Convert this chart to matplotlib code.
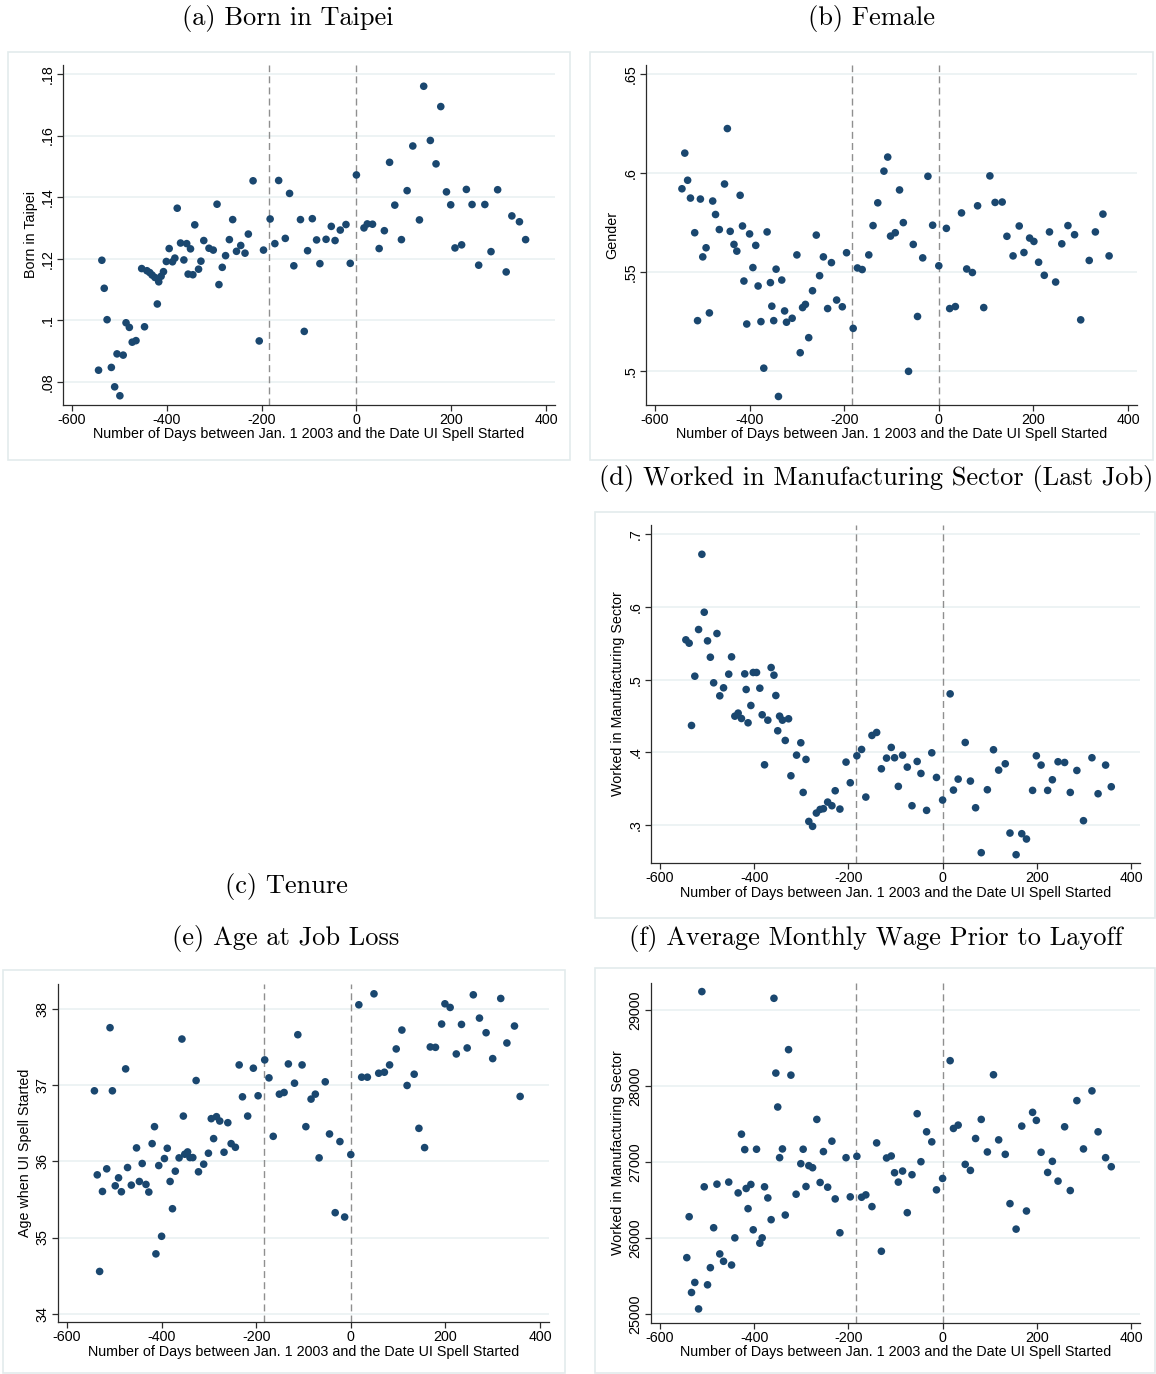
import matplotlib
matplotlib.use("Agg")
import matplotlib.pyplot as plt
from matplotlib.patches import Rectangle

plt.rcParams['font.family'] = ['Liberation Sans', 'DejaVu Sans']
plt.rcParams['axes.unicode_minus'] = False

# ---------------- data ----------------
xticks = [-600, -400, -200, 0, 200, 400]
xtick_labels = ["-600", "-400", "-200", "0", "200", "400"]
cutoffs = [-184, 0]
xlabel = "Number of Days between Jan. 1 2003 and the Date UI Spell Started"

# (a) Born in Taipei
xa = [-544, -537, -532, -526, -517, -510, -505, -499, -492, -486, -479, -473, -465, -453, -447, -442, -436,
      -431, -425, -420, -417, -412, -407, -401, -395, -388, -383, -378, -371, -364, -358, -355, -350, -345,
      -341, -333, -328, -322, -311, -302, -294, -290, -283, -276, -268, -261, -253, -244, -235, -228, -218,
      -205, -196, -182, -172, -164, -150, -141, -132, -118, -110, -103, -93, -84, -77,
      -64, -53, -45, -34, -22, -13, 0, 16, 23, 34, 48, 59, 70, 81, 95, 107, 119, 133, 142, 156, 168, 178,
      190, 199, 208, 222, 232, 244, 258, 271, 284, 298, 316, 328, 344, 357]
ya = [.0838, .1195, .1104, .1002, .0847, .0784, .0891, .0755, .0887, .0992, .0977, .0929, .0934, .1168,
      .0979, .1161, .1155, .1147, .1139, .1053, .1125, .1143, .1158, .1191, .1233, .1190, .1202, .1364,
      .1251, .1196, .1249, .1150, .1232, .1148, .1310, .1166, .1192, .1259, .1234, .1228, .1377, .1116,
      .1172, .1210, .1262, .1327, .1224, .1243, .1218, .1280, .1453, .0933, .1228, .1329, .1249, .1454,
      .1266, .1412, .1177, .1327, .0964, .1226, .1330, .1261, .1184,
      .1263, .1305, .1259, .1293, .1311, .1185, .1472, .1300, .1313, .1312, .1233, .1291, .1513, .1374,
      .1262, .1421, .1566, .1326, .1760, .1584, .1508, .1694, .1417, .1375, .1235, .1245, .1425, .1376,
      .1179, .1376, .1223, .1424, .1157, .1339, .1320, .1262]
yticks_a = [.08, .10, .12, .14, .16, .18]
ytick_labels_a = [".08", ".1", ".12", ".14", ".16", ".18"]

# (b) Female
xb = [-543, -537, -531, -525, -516, -510, -504, -499, -492, -485, -478, -472, -464, -453, -447, -441, -433,
      -427, -420, -415, -412, -406, -400, -393, -387, -382, -376, -370, -363, -356, -353, -349, -344, -339,
      -332, -326, -322, -310, -300, -293, -288, -282, -275, -267, -259, -252, -244, -235, -227, -216, -204,
      -195, -181, -172, -162, -148, -139, -129, -116, -108, -102, -92, -83,
      -75, -64, -54, -45, -34, -23, -13, 0, 16, 23, 35, 48, 59, 71, 82, 95, 108, 119, 134, 144, 157, 170,
      180, 192, 201, 211, 223, 234, 247, 260, 273, 287, 300, 318, 331, 347, 360]
yb = [.5920, .6100, .5963, .5873, .5698, .5254, .5868, .5576, .5622, .5293, .5858, .5790, .5714, .5944,
      .6224, .5705, .5639, .5605, .5887, .5732, .5454, .5237, .5692, .5522, .5634, .5429, .5249, .5014,
      .5702, .5446, .5327, .5254, .5514, .4871, .5459, .5303, .5246, .5266, .5586, .5092, .5320, .5336,
      .5168, .5405, .5686, .5481, .5576, .5315, .5547, .5358, .5324, .5597, .5215, .5520, .5512, .5586,
      .5734, .5849, .6009, .6080, .5681, .5698, .5914,
      .5749, .4998, .5639, .5275, .5571, .5983, .5736, .5531, .5720, .5315, .5325, .5798, .5515, .5497,
      .5834, .5320, .5985, .5851, .5853, .5680, .5581, .5732, .5598, .5671, .5654, .5549, .5483, .5702,
      .5449, .5642, .5734, .5688, .5258, .5558, .5702, .5792, .5581]
yticks_b = [.50, .55, .60, .65]
ytick_labels_b = [".5", ".55", ".6", ".65"]

# (d) Worked in Manufacturing Sector (Last Job)
xd = [-545, -538, -533, -526, -518, -511, -506, -499, -493, -486, -479, -473, -465, -454, -448, -441, -434,
      -427, -420, -417, -413, -407, -402, -395, -388, -383, -378, -371, -364, -358, -354, -350, -346, -340,
      -334, -327, -322, -310, -301, -296, -290, -284, -276, -268, -260, -253, -244, -235, -228, -218, -205,
      -196, -182, -172, -163, -150, -140, -130, -119, -109, -102, -94,
      -85, -75, -65, -54, -46, -34, -23, -13, 0, 16, 23, 33, 48, 59, 70, 82, 95, 108, 119, 133, 143, 156,
      168, 178, 191, 199, 209, 223, 233, 245, 259, 271, 285, 299, 317, 330, 346, 358]
yd = [.5548, .5502, .4370, .5048, .5690, .6725, .5928, .5534, .5309, .4957, .5635, .4778, .4888, .5076,
      .5314, .4498, .4540, .4466, .5080, .4865, .4407, .4645, .5099, .5099, .4883, .4517, .3829, .4443,
      .5167, .5062, .4782, .4297, .4498, .4443, .4164, .4462, .3678, .3962, .4132, .3449, .3903, .3050,
      .2982, .3165, .3215, .3225, .3316, .3266, .3472, .3220, .3866, .3582, .3953, .4040, .3385, .4233,
      .4274, .3774, .3921, .4068, .3926, .3532,
      .3962, .3797, .3266, .3875, .3710, .3202, .3994, .3655, .3344, .4805, .3481, .3632, .4136, .3605,
      .3238, .2620, .3486, .4036, .3756, .3843, .2890, .2592, .2881, .2808, .3477, .3953, .3825, .3477,
      .3623, .3871, .3861, .3449, .3751, .3060, .3926, .3431, .3825, .3527]
yticks_d = [.3, .4, .5, .6, .7]
ytick_labels_d = [".3", ".4", ".5", ".6", ".7"]

# (e) Age at Job Loss
xe = [-542, -536, -531, -525, -516, -509, -504, -498, -491, -485, -476, -472, -464, -453, -447, -441, -433,
      -427, -420, -415, -412, -406, -400, -394, -388, -382, -377, -371, -363, -357, -354, -351, -345, -340,
      -334, -327, -322, -311, -301, -295, -290, -284, -277, -268, -260, -253, -244, -236, -229, -218, -206,
      -196, -182, -173, -164, -151, -141, -132, -119, -112, -103, -95, -84, -75, -67,
      -54, -45, -33, -23, -13, 0, 17, 23, 35, 49, 59, 71, 82, 96, 108, 119, 134, 144, 156, 168, 179, 192,
      199, 210, 223, 234, 246, 259, 272, 286, 300, 317, 330, 346, 358]
ye = [36.927, 35.823, 34.554, 35.605, 35.902, 37.756, 36.927, 35.679, 35.784, 35.601, 37.215, 35.919,
      35.688, 36.177, 35.736, 35.972, 35.697, 35.597, 36.233, 36.456, 34.785, 35.945, 35.016, 36.037,
      36.172, 35.736, 35.378, 35.871, 36.046, 37.607, 36.595, 36.094, 36.124, 36.050, 36.050, 37.062,
      35.863, 35.963, 36.107, 36.561, 36.299, 36.587, 36.530, 36.120, 36.508, 36.233, 36.185, 37.267,
      36.848, 36.595, 37.224, 36.862, 37.333, 37.097, 36.329, 36.883, 36.905, 37.280, 37.027, 37.664,
      37.267, 36.456, 36.818, 36.883, 36.046,
      37.045, 36.360, 35.326, 36.260, 35.269, 36.089, 38.057, 37.106, 37.106, 38.201, 37.158, 37.171,
      37.267, 37.477, 37.725, 36.997, 37.145, 36.434, 36.181, 37.503, 37.498, 37.804, 38.070, 38.022,
      37.411, 37.799, 37.490, 38.188, 37.882, 37.690, 37.350, 38.140, 37.555, 37.778, 36.853]
yticks_e = [34, 35, 36, 37, 38]
ytick_labels_e = ["34", "35", "36", "37", "38"]

# (f) Average Monthly Wage Prior to Layoff
xf = [-543, -538, -533, -526, -518, -511, -506, -499, -493, -486, -479, -473, -465, -454, -448, -441, -434,
      -427, -420, -417, -413, -407, -402, -395, -388, -383, -378, -371, -364, -358, -354, -350, -346, -340,
      -334, -327, -322, -311, -301, -296, -290, -284, -276, -267, -260, -253, -244, -235, -228, -218, -205,
      -196, -182, -172, -163, -150, -140, -130, -119, -109, -102, -94,
      -85, -75, -65, -54, -46, -34, -23, -13, 0, 16, 23, 33, 48, 59, 70, 82, 95, 108, 119, 133, 143, 156,
      168, 178, 191, 199, 209, 223, 233, 245, 259, 271, 285, 299, 317, 330, 346, 358]
yf = [25745, 26283, 25287, 25419, 25071, 29242, 26676, 25388, 25613, 26138, 26711, 25794, 25697, 26738,
      25648, 26005, 26596, 27368, 27165, 26654, 26389, 26707, 26111, 27170, 25935, 26005, 26676, 26530,
      26244, 29154, 28171, 27725, 27059, 27174, 26305, 28479, 28144, 26579, 26980, 27170, 26680, 26954,
      26927, 27562, 26733, 27139, 26671, 27276, 26517, 26072, 27059, 26544, 27077, 26539, 26570, 26416,
      27253, 25829, 27055, 27081, 26861, 26738,
      26883, 26336, 26835, 27637, 27006, 27399, 27267, 26636, 26786, 28334, 27443, 27487, 26971, 26892,
      27311, 27562, 27134, 28149, 27293, 27103, 26455, 26120, 27474, 26358, 27655, 27549, 27130, 26865,
      27011, 26751, 27465, 26627, 27809, 27174, 27937, 27399, 27059, 26940]
yticks_f = [25000, 26000, 27000, 28000, 29000]
ytick_labels_f = ["25000", "26000", "27000", "28000", "29000"]

for _x, _y in [(xa, ya), (xb, yb), (xd, yd), (xe, ye), (xf, yf)]:
    assert len(_x) == len(_y), (len(_x), len(_y))

# ---------------- layout ----------------
W, H = 1156, 1374
fig = plt.figure(figsize=(W / 100, H / 100), dpi=100)
fig.patch.set_facecolor("white")

NAVY = "#1a476f"
GRID = "#e8f0f1"
BOX = "#e3ebec"
AXC = "#2b2b2b"
FS = 10.3


def px_axes(left, top, right, bottom):
    return fig.add_axes([left / W, 1 - bottom / H, (right - left) / W, (bottom - top) / H])


def box(left, top, right, bottom):
    fig.patches.append(Rectangle((left / W, 1 - bottom / H), (right - left) / W, (bottom - top) / H,
                                 transform=fig.transFigure, fill=False, edgecolor=BOX, lw=1.2))


def panel(rect, xs, ys, ylim, yt, ytl, ylab, ylab_pos, xlab_y):
    ax = px_axes(*rect)
    ax.set_axisbelow(True)
    ax.set_facecolor("white")
    for s in ["top", "right"]:
        ax.spines[s].set_visible(False)
    for s in ["left", "bottom"]:
        ax.spines[s].set_color(AXC)
        ax.spines[s].set_linewidth(0.9)
    ax.set_xlim(-619, 419)
    ax.set_ylim(*ylim)
    ax.set_xticks(xticks)
    ax.set_xticklabels(xtick_labels)
    ax.set_yticks(yt)
    ax.set_yticklabels(ytl, rotation=90, va="center")
    ax.tick_params(axis="both", length=4, width=0.9, color=AXC, labelsize=FS, pad=2, labelcolor="black")
    ax.yaxis.grid(True, color=GRID, lw=1.1)
    for c in cutoffs:
        ax.axvline(c, color="#8f8f8f", lw=1.0, ls=(0, (5, 3)), zorder=2)
    ax.scatter(xs, ys, s=30, color=NAVY, edgecolors="none", zorder=3)
    fig.text(ylab_pos[0] / W, 1 - ylab_pos[1] / H, ylab, rotation=90, ha="center", va="center", fontsize=FS)
    fig.text(((rect[0] + rect[2]) / 2) / W, 1 - xlab_y / H, xlabel, ha="center", va="center", fontsize=FS)
    return ax


# panel boxes
box(8, 52, 570, 460)
box(590, 52, 1153, 460)
box(595, 512, 1155, 918)
box(3, 970, 565, 1373)
box(595, 968, 1155, 1373)

panel((63, 65, 555, 405), xa, ya, (.0725, .1829), yticks_a, ytick_labels_a, "Born in Taipei", (31, 235), 434)
panel((646, 65, 1137, 405), xb, yb, (.4828, .6545), yticks_b, ytick_labels_b, "Gender", (612, 235), 434)
panel((651, 525, 1140, 863), xd, yd, (.2478, .7128), yticks_d, ytick_labels_d,
      "Worked in Manufacturing Sector", (618, 694), 893)
panel((58, 984, 549, 1322), xe, ye, (33.89, 38.33), yticks_e, ytick_labels_e,
      "Age when UI Spell Started", (25, 1153), 1352)
panel((651, 983, 1140, 1323), xf, yf, (24886, 29355), yticks_f, ytick_labels_f,
      "Worked in Manufacturing Sector", (618, 1153), 1352)

# titles
TFONT = dict(fontfamily="cmr10", fontsize=19, ha="center", va="center")
fig.text(288 / W, 1 - 19 / H, "(a) Born in Taipei", **TFONT)
fig.text(871 / W, 1 - 19 / H, "(b) Female", **TFONT)
fig.text(876 / W, 1 - 479 / H, "(d) Worked in Manufacturing Sector (Last Job)", **TFONT)
fig.text(286 / W, 1 - 887 / H, "(c) Tenure", **TFONT)
fig.text(286 / W, 1 - 938 / H, "(e) Age at Job Loss", **TFONT)
fig.text(876 / W, 1 - 938 / H, "(f) Average Monthly Wage Prior to Layoff", **TFONT)

fig.savefig("out.png", dpi=100)
